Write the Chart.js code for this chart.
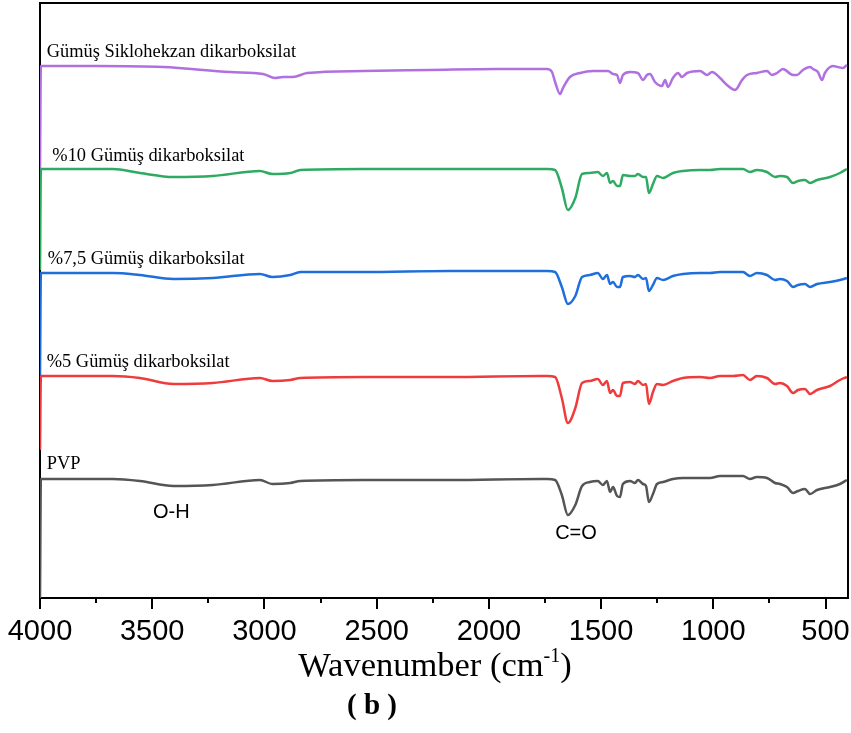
<!DOCTYPE html>
<html>
<head>
<meta charset="utf-8">
<script src="https://cdn.jsdelivr.net/npm/chart.js@4.4.1/dist/chart.umd.min.js"></script>
<style>
html,body{margin:0;padding:0;background:#fff;}
canvas{display:block;}
</style>
</head>
<body>
<canvas id="c" width="851" height="733"></canvas>
<script>
// ---- data (wavenumber in cm-1, transmittance in arbitrary stacked units) ----
const wavenumbers = [4000,3996,3745,3675,3555,3405,3230,3020,2965,2885,2840,2560,2175,1770,1740,1705,1675,1648,1615,1585,1550,1515,1492,1474,1460,1447,1429,1416,1403,1371,1349,1336,1313,1300,1287,1269,1251,1224,1180,1135,1059,1015,970,912,868,837,806,761,725,703,672,645,623,592,569,538,480,436,405];

const pvp = [0.0,23.8,23.8,23.8,23.4,22.4,22.6,23.6,22.8,23.0,23.4,23.6,23.6,23.8,23.8,23.6,20.6,16.6,18.6,22.4,23.2,23.4,22.6,23.4,21.2,22.2,20.4,20.2,22.8,23.4,23.0,23.6,22.8,22.4,19.2,20.8,22.8,23.2,23.8,24.0,24.0,24.0,24.4,24.4,24.4,23.8,24.2,24.0,23.0,22.8,22.2,21.0,21.4,21.8,20.8,21.6,22.2,22.8,23.6];

const ag5 = [29.6,44.4,44.4,44.4,44.0,42.8,43.0,44.0,43.4,43.6,44.0,44.2,44.2,44.4,44.4,44.2,40.0,35.0,38.0,43.0,43.4,43.8,42.6,43.4,41.0,41.6,40.4,40.4,43.0,43.2,42.8,43.4,42.6,42.8,38.8,41.2,42.8,42.6,43.4,44.0,44.2,44.0,44.4,44.4,44.6,43.6,44.4,44.0,42.8,43.0,42.4,41.0,41.6,41.8,40.8,41.6,42.4,43.6,44.2];

const ag75 = [44.6,65.0,65.0,65.0,64.6,63.8,64.0,64.8,64.2,64.6,65.2,65.2,65.4,65.4,65.4,65.2,62.2,58.8,60.4,64.2,64.6,65.0,63.8,64.6,62.8,63.2,62.2,62.2,64.2,64.4,64.2,64.6,63.8,64.0,61.4,62.6,64.0,63.6,64.4,64.8,65.0,65.0,65.2,65.2,65.2,64.4,65.0,64.6,63.6,63.8,63.4,62.2,62.6,62.8,62.2,62.8,63.2,63.6,64.0];

const ag10 = [65.6,85.8,85.8,85.8,85.0,84.2,84.4,85.4,84.8,85.0,85.6,85.8,85.8,85.8,85.8,85.6,82.0,77.6,80.0,84.8,85.0,85.2,84.4,85.0,83.0,83.4,82.4,82.4,84.6,84.4,84.4,84.8,84.2,84.2,81.0,82.8,84.4,84.0,85.0,85.4,85.6,85.6,85.8,85.8,85.8,85.2,85.6,85.2,84.2,84.4,84.2,83.0,83.4,83.6,83.0,83.6,84.2,85.0,85.8];

const saltWavenumbers = [4000,3996,3746,3452,3153,3006,2953,2917,2873,2810,2561,2262,1964,1772,1741,1719,1705,1683,1670,1639,1594,1536,1469,1447,1429,1416,1403,1371,1336,1313,1296,1282,1260,1229,1215,1202,1180,1157,1140,1117,1059,1028,1006,970,939,903,872,850,806,761,739,716,690,645,627,601,569,556,534,516,503,467,445,422,405];

const saltValues = [85.6,106.4,106.4,106.2,105.2,104.8,104.0,104.2,104.2,105.0,105.4,105.6,105.8,105.8,105.8,105.2,103.2,100.8,102.0,104.2,105.0,105.4,105.4,104.8,104.6,103.0,104.6,105.2,105.0,103.6,104.6,104.8,103.2,102.4,103.6,102.2,104.0,105.0,104.2,105.0,105.4,104.6,105.2,104.0,102.6,101.6,103.6,104.6,105.0,105.4,104.6,105.0,105.8,104.6,104.6,105.6,106.2,105.8,105.2,103.6,105.0,106.4,106.2,106.0,106.6];

const tickValues = [4000,3750,3500,3250,3000,2750,2500,2250,2000,1750,1500,1250,1000,750,500];
const seriesNames = ["PVP","%5 Gümüş dikarboksilat","%7,5 Gümüş dikarboksilat","%10 Gümüş dikarboksilat","Gümüş Siklohekzan dikarboksilat"];
const seriesColors = ["#555555","#ef3b3b","#1e6fdc","#2eaa62","#b070e0"];

const toPts = (xs, ys) => xs.map((x, i) => ({x: x, y: ys[i]}));

// ---- plugins ----
const framePlugin = {
  id: 'frame',
  beforeDatasetsDraw(chart) {
    const {ctx, chartArea: a} = chart;
    ctx.save();
    ctx.strokeStyle = '#000';
    ctx.lineWidth = 2;
    ctx.beginPath();
    ctx.moveTo(a.left, a.bottom);
    ctx.lineTo(a.left, a.top);
    ctx.lineTo(a.right, a.top);
    ctx.lineTo(a.right, a.bottom);
    ctx.lineTo(a.left, a.bottom);
    ctx.stroke();
    const xs = chart.scales.x;
    tickValues.forEach(v => {
      const px = Math.round(xs.getPixelForValue(v));
      const len = (v % 500 === 0) ? 11 : 5;
      ctx.beginPath();
      ctx.moveTo(px, a.bottom);
      ctx.lineTo(px, a.bottom + len);
      ctx.stroke();
    });
    ctx.restore();
  }
};

const textPlugin = {
  id: 'texts',
  afterDraw(chart) {
    const {ctx} = chart;
    const xs = chart.scales.x, ys = chart.scales.y;
    ctx.save();
    ctx.fillStyle = '#000';
    ctx.textBaseline = 'alphabetic';
    ctx.textAlign = 'left';
    ctx.font = '18.4px "Liberation Serif", "Times New Roman", serif';
    const labelSpots = [
      [seriesNames[4], 3970, 108.2],
      [seriesNames[3], 3945, 87.4],
      [seriesNames[2], 3965, 66.8],
      [seriesNames[1], 3970, 46.2],
      [seriesNames[0], 3970, 25.8]
    ];
    labelSpots.forEach(([t, wx, wy]) => {
      ctx.fillText(t, xs.getPixelForValue(wx), ys.getPixelForValue(wy));
    });
    ctx.font = '20px "Liberation Sans", Arial, sans-serif';
    ctx.textAlign = 'center';
    ctx.fillText('O-H', xs.getPixelForValue(3415), ys.getPixelForValue(16.0));
    ctx.fillText('C=O', xs.getPixelForValue(1612), ys.getPixelForValue(11.8));

    const base = 676;
    const big = '34.5px "Liberation Serif", "Times New Roman", serif';
    const sup = '20px "Liberation Serif", "Times New Roman", serif';
    ctx.textAlign = 'left';
    ctx.font = big;
    const p1 = 'Wavenumber (cm';
    const w1 = ctx.measureText(p1).width;
    ctx.font = sup;
    const w2 = ctx.measureText('-1').width;
    ctx.font = big;
    const w3 = ctx.measureText(')').width;
    const total = w1 + w2 + w3;
    const cx = 435;
    let x0 = cx - total / 2;
    ctx.fillText(p1, x0, base);
    ctx.font = sup;
    ctx.fillText('-1', x0 + w1, base - 14);
    ctx.font = big;
    ctx.fillText(')', x0 + w1 + w2, base);

    ctx.font = 'bold 29px "Liberation Serif", "Times New Roman", serif';
    ctx.textAlign = 'center';
    ctx.fillText('( b )', 372, 714);
    ctx.restore();
  }
};

const ds = (label, xs, ys, color) => ({
  label: label,
  data: toPts(xs, ys),
  borderColor: color,
  borderWidth: 2.5,
  pointRadius: 0,
  fill: false,
  cubicInterpolationMode: 'monotone'
});

new Chart(document.getElementById('c'), {
  type: 'line',
  data: {
    datasets: [
      ds(seriesNames[0], wavenumbers, pvp, seriesColors[0]),
      ds(seriesNames[1], wavenumbers, ag5, seriesColors[1]),
      ds(seriesNames[2], wavenumbers, ag75, seriesColors[2]),
      ds(seriesNames[3], wavenumbers, ag10, seriesColors[3]),
      ds(seriesNames[4], saltWavenumbers, saltValues, seriesColors[4])
    ]
  },
  options: {
    responsive: false,
    animation: false,
    devicePixelRatio: 1,
    layout: {padding: {left: 40, right: 3, top: 3, bottom: 0}},
    plugins: {legend: {display: false}, tooltip: {enabled: false}, title: {display: false}},
    scales: {
      x: {
        type: 'linear',
        reverse: true,
        min: 400,
        max: 4000,
        afterBuildTicks: (s) => { s.ticks = tickValues.map(v => ({value: v})); },
        afterFit: (s) => { s.height = 135; s.paddingLeft = 0; s.paddingRight = 0; },
        border: {display: false},
        grid: {display: true, drawOnChartArea: false, drawTicks: true, tickLength: 11, color: 'rgba(0,0,0,0)', tickColor: 'rgba(0,0,0,0)'},
        ticks: {
          autoSkip: false,
          maxRotation: 0,
          padding: 6,
          color: '#000',
          font: {family: '"Liberation Sans", Arial, sans-serif', size: 29},
          callback: (v) => (v % 500 === 0 ? String(v) : '')
        }
      },
      y: {
        display: false,
        min: 0,
        max: 119
      }
    }
  },
  plugins: [framePlugin, textPlugin]
});
</script>
</body>
</html>
